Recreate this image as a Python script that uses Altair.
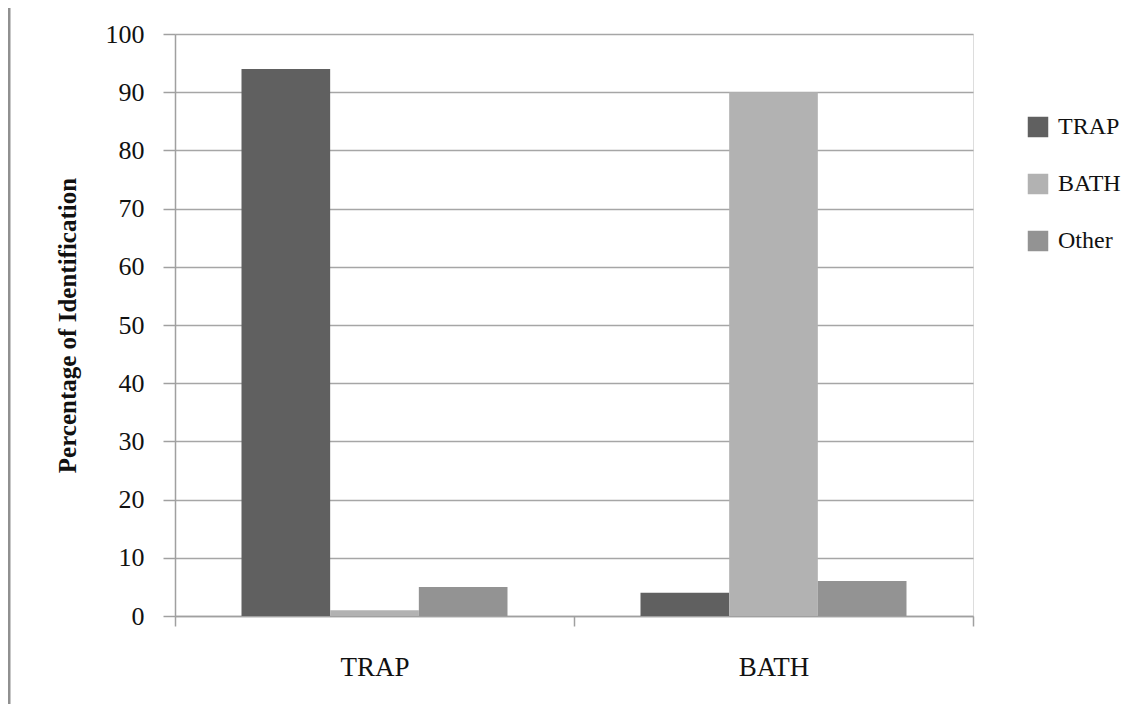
import altair as alt
import pandas as pd

groups = ["TRAP", "BATH"]
responses = ["TRAP", "BATH", "Other"]
trap_values = [94, 1, 5]
bath_values = [4, 90, 6]
colors = ["#606060", "#b2b2b2", "#939393"]
y_ticks = list(range(0, 101, 10))

rows = []
for g, vals in zip(groups, [trap_values, bath_values]):
    for r, v in zip(responses, vals):
        rows.append({"Stimulus": g, "Response": r, "Value": v})
df = pd.DataFrame(rows)

FONT = "Liberation Serif"

bars = alt.Chart(df).mark_bar().encode(
    x=alt.X("Stimulus:N", sort=groups, title=None,
            scale=alt.Scale(paddingInner=0, paddingOuter=0),
            axis=alt.Axis(labelAngle=0, tickBand="extent", tickSize=10,
                          labelPadding=28, domainColor="#a0a0a0",
                          tickColor="#a0a0a0", domainWidth=1.5, tickWidth=1.5,
                          labelFont=FONT, labelFontSize=27, labelColor="#111111")),
    xOffset=alt.XOffset("Response:N", sort=responses,
                        scale=alt.Scale(paddingInner=0, paddingOuter=0.75)),
    y=alt.Y("Value:Q", scale=alt.Scale(domain=[0, 100]),
            title="Percentage of Identification",
            axis=alt.Axis(values=y_ticks, tickSize=12, labelPadding=19,
                          grid=True, gridColor="#a6a6a6", gridWidth=1.5,
                          domainColor="#a0a0a0", tickColor="#a0a0a0",
                          domainWidth=1.5, tickWidth=1.5,
                          labelFont=FONT, labelFontSize=26, labelColor="#111111",
                          titleFont=FONT, titleFontSize=25, titleFontWeight="bold",
                          titleColor="#111111", titleX=-108, titleY=291,
                          titleAngle=270, titleAlign="center",
                          titleBaseline="middle")),
    color=alt.Color("Response:N", sort=responses,
                    scale=alt.Scale(domain=responses, range=colors),
                    legend=alt.Legend(title=None, orient="none", legendX=851,
                                      legendY=81, symbolType="square",
                                      symbolSize=420, symbolStrokeWidth=0,
                                      labelFont=FONT, labelFontSize=24,
                                      labelColor="#111111", labelOffset=8,
                                      rowPadding=33, padding=0)),
)

edge = alt.Chart(pd.DataFrame({"a": [0]})).mark_rule(
    color="#909090", strokeWidth=3
).encode(x=alt.value(-166), y=alt.value(-30), y2=alt.value(680))

chart = alt.layer(edge, bars).properties(
    width=798, height=582,
    autosize=alt.AutoSizeParams(type="none"),
    padding={"left": 167, "top": 26, "right": 152, "bottom": 88},
).configure_view(stroke=None).configure(background="white")

chart.save("out.html", embed_options={"renderer": "svg", "actions": False})
